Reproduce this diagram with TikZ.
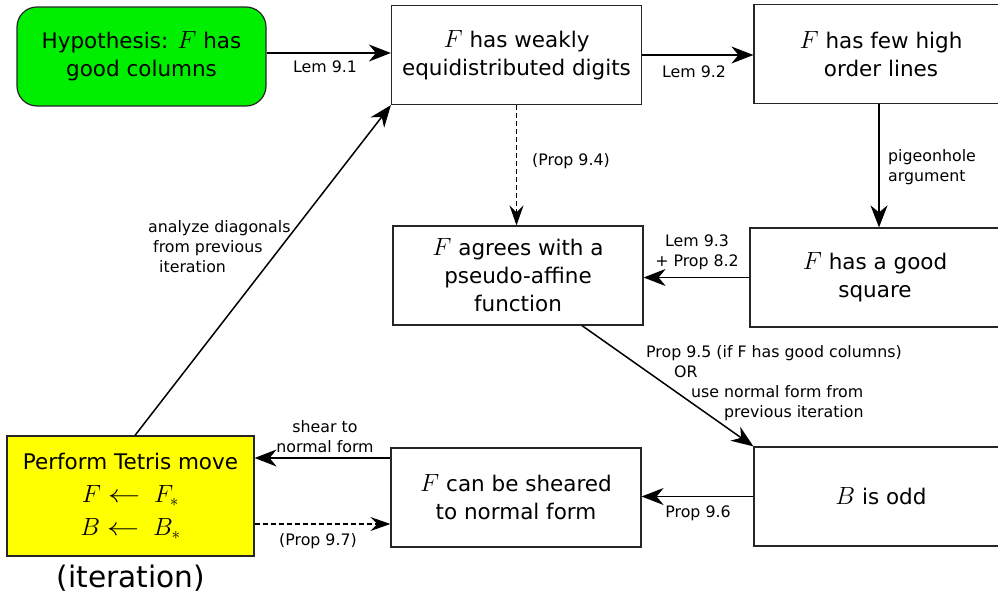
\documentclass[tikz,border=0pt]{standalone}
\usepackage{fontspec}
\usepackage{graphicx}
\setmainfont{DejaVu Sans}
\usetikzlibrary{arrows.meta,calc}
\newcommand\boxfnt{\fontsize{21.5}{28}\selectfont}
\newcommand\labfnt{\fontsize{15.8}{20}\selectfont}
\newcommand\mth[1]{{\fontsize{24}{28}\selectfont$#1$}}
\newcommand\larr{\mathrel{\scalebox{1.3}[1]{$\leftarrow$}}}
\begin{document}
\begin{tikzpicture}[x=1pt,y=-1pt,
  box/.style={draw=black!85, line width=1.2pt, fill=white, align=center, inner sep=0pt, font=\boxfnt, minimum width=250pt, minimum height=99pt},
  lab/.style={font=\labfnt, inner sep=0pt, align=center},
  arr/.style={line width=1.5pt, -{Stealth[length=22pt,width=17pt,inset=7pt]}},
  dasharr/.style={line width=1.1pt, dash pattern=on 5pt off 3pt, -{Stealth[length=20pt,width=14pt,inset=7pt]}}]
\useasboundingbox (0,0) rectangle (998,597);
\fill[white] (0,0) rectangle (998,597);

\node[box, fill={rgb,255:red,0;green,238;blue,0}, rounded corners=20pt, minimum width=249pt] (green) at (141.5,56.5) {Hypothesis: \mth{F} has\\good columns};
\node[box] (weak) at (516.5,55) {\mth{F} has weakly\\equidistributed digits};
\node[box, minimum width=254pt] (few) at (881,54) {\mth{F} has few high\\order lines};
\node[box] (pseudo) at (518,275.5) {\mth{F} agrees with a\\pseudo-affine\\function};
\node[box] (square) at (875,277.5) {\mth{F} has a good\\square};
\node[box, minimum width=254pt] (odd) at (881,496.5) {\mth{B} is odd};
\node[box] (shear) at (516,497.5) {\mth{F} can be sheared\\to normal form};
\node[box, fill={rgb,255:red,255;green,255;blue,0}, minimum width=247pt, minimum height=120pt, font=\fontsize{21.5}{33}\selectfont] (tetris) at (130.5,496) {Perform Tetris move\\\mth{F \larr\; F_*}\\\mth{B \larr\; B_*}};
\node[inner sep=0pt, font=\fontsize{29.6}{34}\selectfont] (iter) at (131,578) {(iteration)};

\draw[arr] (green.east |- 0,53) -- (weak.west |- 0,53);
\draw[arr] (weak.east) -- (few.west |- weak.east);
\draw[arr] ([xshift=-2pt]few.south) -- ([xshift=-2pt]square.north -| few.south);
\draw[arr] (square.west) -- (pseudo.east |- square.west);
\draw[dasharr] (weak.south) -- (pseudo.north -| weak.south);
\draw[arr] ([xshift=64pt]pseudo.south) -- (odd.north west);
\draw[arr] (odd.west) -- (shear.east |- odd.west);
\draw[arr] ([yshift=39.5pt]shear.west) -- (tetris.east |- 0,458);
\draw[dasharr] (tetris.east |- 0,524) -- (shear.west |- 0,524);
\draw[arr] ([xshift=4.5pt]tetris.north) -- (weak.south west);

\node[lab] (l91) at (325,67) {Lem 9.1};
\node[lab] (l92) at (694,72) {Lem 9.2};
\node[lab, anchor=west, align=left] (lpig) at (888,167) {pigeonhole\\argument};
\node[lab] (l94) at (571,161) {(Prop 9.4)};
\node[lab] (l93) at (697,252) {Lem 9.3\\+ Prop 8.2};
\node[lab, anchor=west, align=left] (l95) at (646,383) {Prop 9.5 (if F has good columns)\\\hspace*{28pt}OR\\\hspace*{45pt}use normal form from\\\hspace*{78pt}previous iteration};
\node[lab] (l96) at (698,513) {Prop 9.6};
\node[lab] (lsh) at (325,437) {shear to\\normal form};
\node[lab] (l97) at (318,541) {(Prop 9.7)};
\node[lab, anchor=west, align=left] (ldiag) at (148,247) {analyze diagonals\\\hspace*{5pt}from previous\\\hspace*{11pt}iteration};
\end{tikzpicture}
\end{document}
